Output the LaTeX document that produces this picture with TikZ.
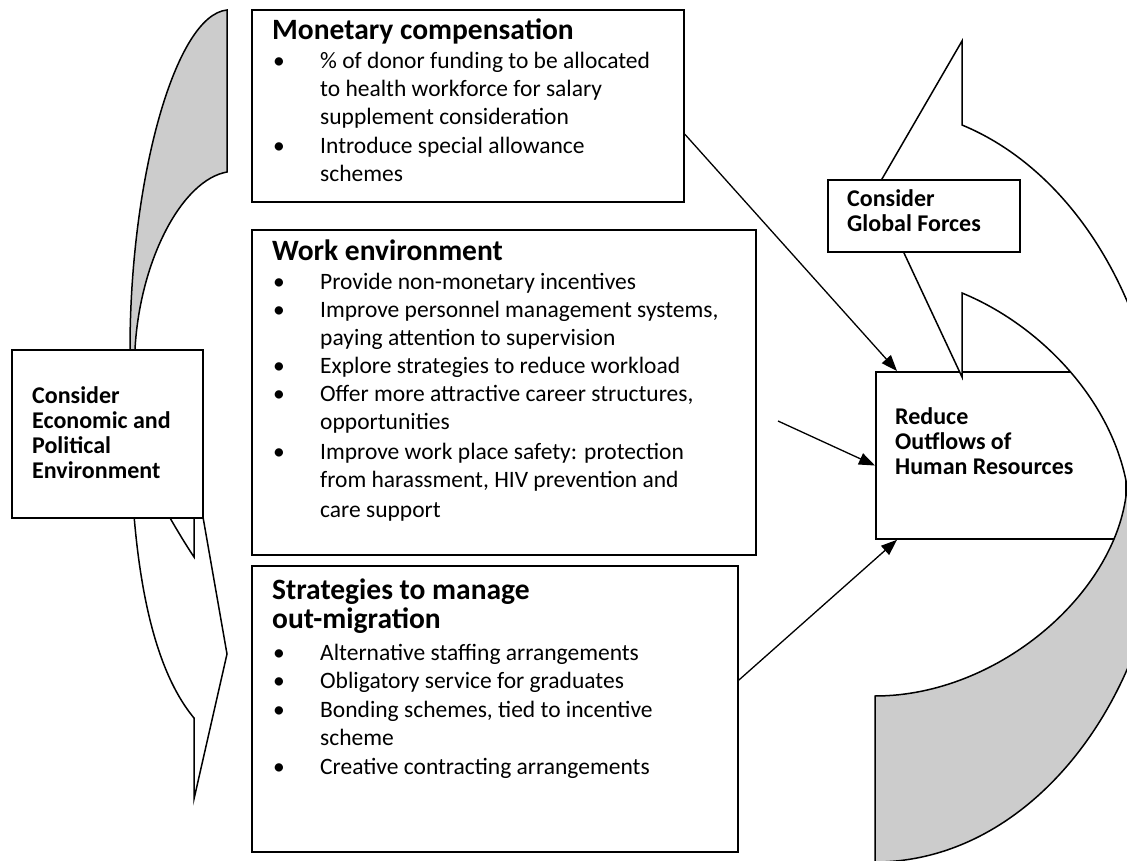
\documentclass[tikz,border=0pt]{standalone}
\usepackage{fontspec}
\setmainfont{Carlito}
\usetikzlibrary{arrows.meta,calc}
\newcommand{\mybul}{\llap{\makebox[47pt][l]{•}}}
\definecolor{shade}{HTML}{CCCCCC}
\begin{document}
\begin{tikzpicture}[x=1pt,y=-1pt,
  box/.style={draw=black, line width=1.8pt, fill=white, anchor=north west, inner sep=0pt},
  shp/.style={draw=black, line width=1.5pt, line join=miter},
  conn/.style={draw=black, line width=1.3pt, -{Triangle[length=16pt,width=12pt]}},
  body/.style={anchor=base west, inner sep=0pt, font=\fontsize{23.5}{28}\selectfont},
  ttl/.style={anchor=base west, inner sep=0pt, font=\fontsize{29.5}{32}\selectfont\bfseries},
  lab/.style={anchor=base west, inner sep=0pt, font=\fontsize{24}{25}\selectfont\bfseries}]
\useasboundingbox (0,0) rectangle (1127,861);
\fill[white] (0,0) rectangle (1127,861);
\clip (0,0) rectangle (1127,861);

% ---- left curved arrow ----
\filldraw[shp, fill=shade] (227,172) -- (227,10) .. controls (175,15) and (130,180) .. (130,349)
  -- (130,420) -- (140,420) -- (135,349) .. controls (140,260) and (182,180) .. (227,172) -- cycle;
\draw[shp] (130,420) .. controls (131,560) and (150,665) .. (194,718) -- (194,799) -- (227,654) -- (200,500);
\draw[shp] (160,500) .. controls (172,522) and (184,542) .. (194,557) -- (194,500);

\node[box, minimum width=191pt, minimum height=168pt] (env) at (11,349) {};
\node[lab] (env1) at (32,403) {Consider};
\node[lab] (env2) at (32,428) {Economic and};
\node[lab] (env3) at (32,453) {Political};
\node[lab] (env4) at (32,478) {Environment};

% ---- reduce box ----
\node[box, minimum width=250pt, minimum height=167pt] (red) at (875,371) {};
\node[lab] (red1) at (895,424) {Reduce};
\node[lab] (red2) at (895,449) {Outflows of};
\node[lab] (red3) at (895,474) {Human Resources};

% ---- right curved arrow ----
\filldraw[shp, fill=white] (962,41) -- (962,125) .. controls (1083,175) and (1165,324) .. (1165,490)
  -- (1127,486) .. controls (1112,400) and (1040,325) .. (962,293) -- (962,377) -- (875,191) -- cycle;
\filldraw[shp, fill=shade] (1165,490) .. controls (1163,690) and (1035,862) .. (875,862)
  -- (875,696) .. controls (1000,696) and (1120,590) .. (1127,486) -- cycle;

\node[box, minimum width=192pt, minimum height=72pt] (glob) at (827,179) {};
\node[lab] (glob1) at (847,207) {Consider};
\node[lab] (glob2) at (847,232) {Global Forces};

% ---- Monetary compensation ----
\node[box, minimum width=432pt, minimum height=192pt] (mon) at (251,9) {};
\node[ttl] (mont) at (272,40) {Monetary compensation};
\foreach \yy/\tx [count=\i] in {69/{\mybul\% of donor funding to be allocated},
  97/{to health workforce for salary}, 125/{supplement consideration},
  154/{\mybul Introduce special allowance}, 182/{schemes}}
  {\node[body, name=mon\i] at (320,\yy) {\tx};}

% ---- Work environment ----
\node[box, minimum width=504pt, minimum height=325pt] (work) at (251,229) {};
\node[ttl] (workt) at (272,261) {Work environment};
\foreach \yy/\tx [count=\i] in {289/{\mybul Provide non-monetary incentives},
  317/{\mybul Improve personnel management systems,}, 345/{paying attention to supervision},
  373/{\mybul Explore strategies to reduce workload},
  401/{\mybul Offer more attractive career structures,}, 429/{opportunities},
  459/{\mybul Improve work place safety: protection}, 487/{from harassment, HIV prevention and},
  517/{care support}}
  {\node[body, name=work\i] at (320,\yy) {\tx};}

% ---- Strategies ----
\node[box, minimum width=486pt, minimum height=286pt] (str) at (251,565) {};
\node[ttl] (strt1) at (272,599) {Strategies to manage};
\node[ttl] (strt2) at (272,628) {out-migration};
\foreach \yy/\tx [count=\i] in {660/{\mybul Alternative staffing arrangements},
  688/{\mybul Obligatory service for graduates},
  717/{\mybul Bonding schemes, tied to incentive}, 745/{scheme},
  774/{\mybul Creative contracting arrangements}}
  {\node[body, name=str\i] at (320,\yy) {\tx};}

% ---- connectors ----
\coordinate (wst) at (778,421);
\draw[conn] ($(mon.north east)!0.646!(mon.south east)$) -- ($(red.north west)+(22,0)$);
\draw[conn] (wst) -- ($(red.north west)!0.56!(red.south west)$);
\draw[conn] ($(str.north east)!0.4!(str.south east)$) -- ($(red.south west)+(22,0)$);
\end{tikzpicture}
\end{document}
